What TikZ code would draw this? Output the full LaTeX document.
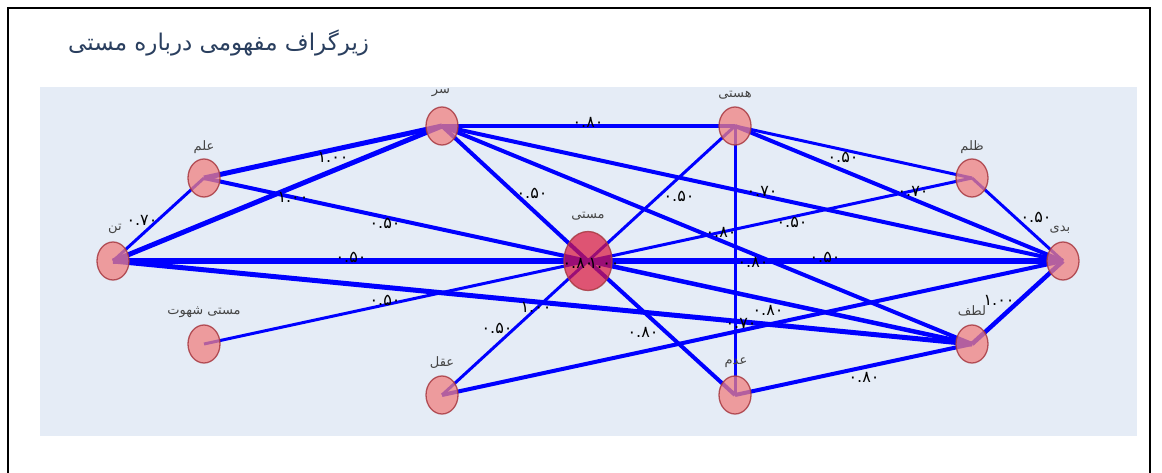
\documentclass[tikz,border=0pt]{standalone}
\usepackage{fontspec}
\usetikzlibrary{shapes.geometric}
\TeXXeTstate=1
\newfontfamily\arabicfont[Script=Arabic]{DejaVu Sans}
\definecolor{plotbg}{HTML}{E5ECF6}
\definecolor{titlec}{HTML}{2A3F5F}
\definecolor{edgeblue}{HTML}{0000FF}
\definecolor{nodefill}{HTML}{F08080}
\definecolor{nodeedge}{HTML}{A83A42}
\definecolor{centerfill}{HTML}{DC143C}
\definecolor{labgray}{HTML}{444444}
\tikzset{
  gnode/.style={ellipse, minimum width=32pt, minimum height=38pt, inner sep=0pt,
    fill=nodefill, fill opacity=0.75, draw=nodeedge, draw opacity=0.85, line width=1.3pt},
  cnode/.style={ellipse, minimum width=48pt, minimum height=59pt, inner sep=0pt,
    fill=centerfill, fill opacity=0.7, draw=nodeedge, draw opacity=0.85, line width=1.3pt},
  nlab/.style={font=\arabicfont\fontsize{13}{13}\selectfont, text=labgray, inner sep=0pt},
  elab/.style={font=\arabicfont\fontsize{16}{16}\selectfont, text=black, inner sep=0pt},
  ed/.style={draw=edgeblue, line width=#1pt},
}
\begin{document}
\begin{tikzpicture}[x=1pt,y=-1pt]
\useasboundingbox (0,0) rectangle (1162,473);
\fill[white] (0,0) rectangle (1162,473);
\draw[black, line width=2pt] (8,480) -- (8,8) -- (1150,8) -- (1150,480);
\node[anchor=west, text=titlec, font=\arabicfont\fontsize{23}{23}\selectfont, inner sep=0pt] (title) at (68,43) {\beginR زیرگراف مفهومی درباره مستی\endR};
\fill[plotbg] (40,87) rectangle (1137,436);

% node coordinates
\coordinate (psar) at (442,126);
\coordinate (phasti) at (735,126);
\coordinate (pelm) at (204,178);
\coordinate (pzolm) at (972,178);
\coordinate (ptan) at (113,261);
\coordinate (pmasti) at (588,261);
\coordinate (pbadi) at (1063,261);
\coordinate (pshahvat) at (204,344);
\coordinate (plotf) at (972,344);
\coordinate (paql) at (442,395);
\coordinate (padam) at (735,395);

% edges
\draw[ed=3] (ptan) -- (pelm);
\draw[ed=5] (pelm) -- (psar);
\draw[ed=5] (ptan) -- (psar);
\draw[ed=4] (pelm) -- (pmasti);
\draw[ed=6] (ptan) -- (pmasti);
\draw[ed=5] (ptan) -- (plotf);
\draw[ed=3] (pshahvat) -- (pmasti);
\draw[ed=4] (psar) -- (phasti);
\draw[ed=4] (psar) -- (pmasti);
\draw[ed=4] (psar) -- (pbadi);
\draw[ed=4] (psar) -- (plotf);
\draw[ed=3] (phasti) -- (pmasti);
\draw[ed=3] (phasti) -- (padam);
\draw[ed=3] (phasti) -- (pzolm);
\draw[ed=4] (phasti) -- (pbadi);
\draw[ed=3] (pzolm) -- (pmasti);
\draw[ed=3] (pzolm) -- (pbadi);
\draw[ed=6] (pmasti) -- (pbadi);
\draw[ed=4.5] (pmasti) -- (plotf);
\draw[ed=4] (pmasti) -- (padam);
\draw[ed=4] (paql) -- (pbadi);
\draw[ed=4] (padam) -- (plotf);
\draw[ed=4.5] (plotf) -- (pbadi);
\draw[ed=3] (paql) -- (pmasti);

% nodes
\node[gnode] (sar) at (psar) {};
\node[gnode] (hasti) at (phasti) {};
\node[gnode] (elm) at (pelm) {};
\node[gnode] (zolm) at (pzolm) {};
\node[gnode] (tan) at (ptan) {};
\node[cnode] (masti) at (pmasti) {};
\node[gnode] (badi) at (pbadi) {};
\node[gnode] (shahvat) at (pshahvat) {};
\node[gnode] (lotf) at (plotf) {};
\node[gnode] (aql) at (paql) {};
\node[gnode] (adam) at (padam) {};

% node labels
\node[nlab] (lsar) at (441,93) {\beginR سر\endR};
\node[nlab] (lhasti) at (735,95) {\beginR هستی\endR};
\node[nlab] (lelm) at (204,147) {\beginR علم\endR};
\node[nlab] (lzolm) at (972,147) {\beginR ظلم\endR};
\node[nlab] (ltan) at (115,229) {\beginR تن\endR};
\node[nlab] (lmasti) at (588,216) {\beginR مستی\endR};
\node[nlab] (lbadi) at (1060,230) {\beginR بدی\endR};
\node[nlab] (lshahvat) at (204,312) {\beginR مستی شهوت\endR};
\node[nlab] (llotf) at (972,311) {\beginR لطف\endR};
\node[nlab] (laql) at (442,363) {\beginR عقل\endR};
\node[nlab] (ladam) at (736,363) {\beginR عدم\endR};

% edge labels
\node[elab] (e1) at (142,220) {۰.۷۰};
\node[elab] (e2) at (333,157) {۱.۰۰};
\node[elab] (e3) at (293,197) {۱.۰۰};
\node[elab] (e4) at (385,223) {۰.۵۰};
\node[elab] (e5) at (351,257) {۰.۵۰};
\node[elab] (e6) at (536,307) {۱.۰۰};
\node[elab] (e7) at (385,300) {۰.۵۰};
\node[elab] (e8) at (588,122) {۰.۸۰};
\node[elab] (e9) at (532,193) {۰.۵۰};
\node[elab] (e10) at (762,191) {۰.۷۰};
\node[elab] (e11) at (721,232) {۰.۸۰};
\node[elab] (e12) at (679,196) {۰.۵۰};
\node[elab] (e13) at (753,262) {۰.۸۰};
\node[elab] (e14) at (843,157) {۰.۵۰};
\node[elab] (e15) at (913,191) {۰.۷۰};
\node[elab] (e16) at (792,222) {۰.۵۰};
\node[elab] (e17) at (1036,217) {۰.۵۰};
\node[elab] (e18) at (825,257) {۰.۵۰};
\node[elab] (e19) at (768,310) {۰.۸۰};
\node[elab] (e20) at (643,332) {۰.۸۰};
\node[elab] (e21) at (741,323) {۰.۷۰};
\node[elab] (e22) at (864,377) {۰.۸۰};
\node[elab] (e23) at (999,300) {۱.۰۰};
\node[elab] (e24) at (497,328) {۰.۵۰};
\node[elab] (e25) at (578,263) {۰.۸۰};
\node[elab] (e26) at (604,263) {۱.۰۰};
\end{tikzpicture}
\end{document}
